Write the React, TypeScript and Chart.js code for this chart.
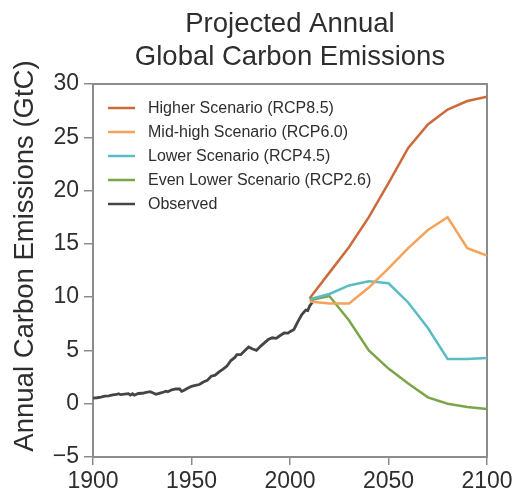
import React, { useEffect, useRef } from 'react';
import { Chart, registerables } from 'chart.js';

Chart.register(...registerables);

const titleLines = ['Projected Annual', 'Global Carbon Emissions'];
const yAxisLabel = 'Annual Carbon Emissions (GtC)';

const seriesNames = [
  'Higher Scenario (RCP8.5)',
  'Mid-high Scenario (RCP6.0)',
  'Lower Scenario (RCP4.5)',
  'Even Lower Scenario (RCP2.6)',
  'Observed',
];
const seriesColors = ['#cc6a3c', '#f5a35a', '#5bbcc6', '#7ba548', '#454545'];

const observedYears = [
  1900, 1902, 1904, 1906, 1908, 1910, 1912, 1913, 1914, 1916, 1918, 1919, 1920, 1921, 1923,
  1925, 1927, 1929, 1930, 1932, 1934, 1936, 1937, 1938, 1940, 1942, 1944, 1945, 1946, 1948,
  1950, 1952, 1954, 1956, 1958, 1960, 1962, 1964, 1966, 1968, 1970, 1972, 1973, 1975, 1977,
  1979, 1981, 1983, 1985, 1987, 1989, 1991, 1993, 1995, 1997, 1999, 2000, 2002, 2004, 2006,
  2008, 2009, 2010, 2012,
];
const observedValues = [
  0.53, 0.56, 0.62, 0.71, 0.73, 0.82, 0.87, 0.94, 0.85, 0.9, 0.94, 0.81, 0.93, 0.8, 0.96,
  0.98, 1.06, 1.13, 1.05, 0.88, 0.99, 1.1, 1.18, 1.12, 1.3, 1.39, 1.38, 1.16, 1.24, 1.45,
  1.63, 1.72, 1.8, 2.04, 2.19, 2.58, 2.68, 2.99, 3.25, 3.54, 4.05, 4.34, 4.61, 4.6, 4.96,
  5.32, 5.13, 5.0, 5.38, 5.71, 6.04, 6.19, 6.14, 6.4, 6.64, 6.63, 6.76, 6.97, 7.7, 8.37,
  8.78, 8.74, 9.17, 9.7,
];

const scenarioYears = [2010, 2020, 2030, 2040, 2050, 2060, 2070, 2080, 2090, 2100];
const higherValues = [9.9, 12.3, 14.7, 17.5, 20.7, 24.0, 26.2, 27.6, 28.4, 28.8];
const midHighValues = [9.6, 9.4, 9.4, 10.9, 12.7, 14.6, 16.3, 17.5, 14.6, 13.9];
const lowerValues = [9.8, 10.3, 11.1, 11.5, 11.3, 9.5, 7.1, 4.2, 4.2, 4.3];
const evenLowerValues = [9.7, 10.1, 7.8, 5.0, 3.3, 1.9, 0.6, 0.0, -0.3, -0.5];

const xMin = 1900;
const xMax = 2100;
const xStep = 50;
const yMin = -5;
const yMax = 30;
const yStep = 5;

const AXIS_COLOR = '#8c8c8c';
const TEXT_COLOR = '#2e2e2e';
const FONT_FAMILY = '"Liberation Sans", Arial, Helvetica, sans-serif';

const toPoints = (xs: number[], ys: number[]) => xs.map((x, i) => ({ x, y: ys[i] }));

const framePlugin = {
  id: 'frame',
  beforeDatasetsDraw(chart: any) {
    const { ctx, chartArea } = chart;
    ctx.save();
    ctx.strokeStyle = AXIS_COLOR;
    ctx.lineWidth = 2;
    ctx.strokeRect(
      chartArea.left,
      chartArea.top,
      chartArea.right - chartArea.left,
      chartArea.bottom - chartArea.top
    );
    ctx.restore();
  },
};

const textPlugin = {
  id: 'texts',
  afterDraw(chart: any) {
    const { ctx, chartArea } = chart;
    ctx.save();
    // Title
    ctx.fillStyle = TEXT_COLOR;
    ctx.font = `27.5px ${FONT_FAMILY}`;
    ctx.textAlign = 'center';
    ctx.textBaseline = 'alphabetic';
    const cx = (chartArea.left + chartArea.right) / 2;
    ctx.fillText(titleLines[0], cx, 32);
    ctx.fillText(titleLines[1], cx, 65);

    // Y axis label
    ctx.save();
    ctx.translate(33, 256);
    ctx.rotate(-Math.PI / 2);
    ctx.font = `27.5px ${FONT_FAMILY}`;
    ctx.textAlign = 'center';
    ctx.textBaseline = 'alphabetic';
    ctx.fillText(yAxisLabel, 0, 0);
    ctx.restore();

    // Legend
    ctx.font = `16px ${FONT_FAMILY}`;
    ctx.textAlign = 'left';
    ctx.textBaseline = 'middle';
    seriesNames.forEach((name, i) => {
      const y = 108 + i * 24;
      ctx.strokeStyle = seriesColors[i];
      ctx.lineWidth = 2.5;
      ctx.beginPath();
      ctx.moveTo(108, y);
      ctx.lineTo(135, y);
      ctx.stroke();
      ctx.fillStyle = TEXT_COLOR;
      ctx.fillText(name, 148, y + 1);
    });
    ctx.restore();
  },
};

export default function App() {
  const canvasRef = useRef<HTMLCanvasElement | null>(null);

  useEffect(() => {
    document.body.style.margin = '0';
    const canvas = canvasRef.current;
    if (!canvas) return;

    const seriesData = [
      toPoints(scenarioYears, higherValues),
      toPoints(scenarioYears, midHighValues),
      toPoints(scenarioYears, lowerValues),
      toPoints(scenarioYears, evenLowerValues),
      toPoints(observedYears, observedValues),
    ];

    const chart = new Chart(canvas, {
      type: 'line',
      data: {
        datasets: seriesNames.map((name, i) => ({
          label: name,
          data: seriesData[i],
          borderColor: seriesColors[i],
          backgroundColor: seriesColors[i],
          borderWidth: i === 4 ? 2.8 : 2.5,
          pointRadius: 0,
          tension: 0,
          fill: false,
          order: i === 4 ? 5 : i,
        })),
      },
      options: {
        animation: false,
        responsive: true,
        maintainAspectRatio: false,
        layout: { padding: { top: 84, right: 32, bottom: 0, left: 0 } },
        plugins: {
          legend: { display: false },
          tooltip: { enabled: false },
          title: { display: false },
        },
        scales: {
          x: {
            type: 'linear',
            min: xMin,
            max: xMax,
            afterFit: (scale: any) => {
              scale.height = 40;
            },
            ticks: {
              stepSize: xStep,
              color: TEXT_COLOR,
              font: { size: 23, family: FONT_FAMILY },
              padding: 3,
              maxRotation: 0,
              callback: (v: any) => String(v),
            },
            grid: {
              display: true,
              drawOnChartArea: false,
              drawTicks: true,
              tickLength: 8,
              color: AXIS_COLOR,
              lineWidth: 1.5,
            },
            border: { display: true, color: AXIS_COLOR, width: 2 },
          },
          y: {
            type: 'linear',
            min: yMin,
            max: yMax,
            afterFit: (scale: any) => {
              scale.width = 93;
            },
            ticks: {
              stepSize: yStep,
              color: TEXT_COLOR,
              font: { size: 23, family: FONT_FAMILY },
              padding: 5,
              callback: (v: any) => (Number(v) < 0 ? '\u2212' + Math.abs(Number(v)) : String(v)),
            },
            grid: {
              display: true,
              drawOnChartArea: false,
              drawTicks: true,
              tickLength: 9,
              color: AXIS_COLOR,
              lineWidth: 1.5,
            },
            border: { display: true, color: AXIS_COLOR, width: 2 },
          },
        },
      },
      plugins: [framePlugin, textPlugin],
    });

    return () => {
      chart.destroy();
    };
  }, []);

  return (
    <div style={{ position: 'absolute', left: 0, top: 0, width: 519, height: 497 }}>
      <canvas ref={canvasRef} />
    </div>
  );
}
